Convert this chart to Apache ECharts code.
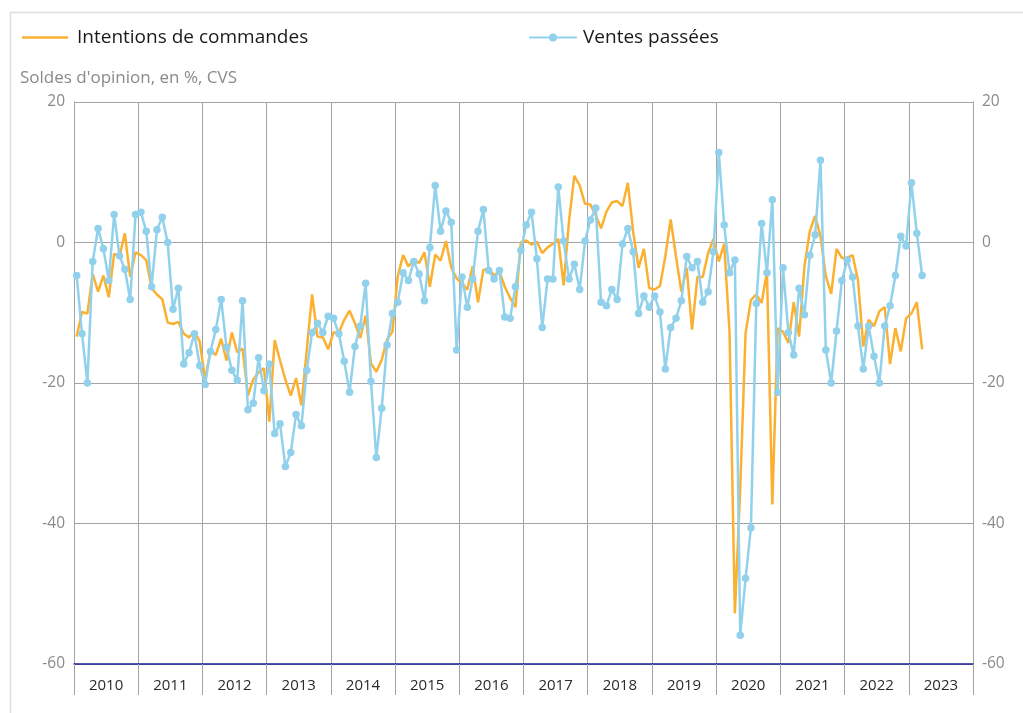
<!DOCTYPE html>
<html>
<head>
<meta charset="utf-8">
<script src="https://cdn.jsdelivr.net/npm/echarts@6/dist/echarts.min.js"></script>
<style>
html,body{margin:0;padding:0;background:#fff;}
#chart{width:1023px;height:713px;}
</style>
</head>
<body>
<div id="chart"></div>
<script>
// Years shown on the x axis
var years = ['2010','2011','2012','2013','2014','2015','2016','2017','2018','2019','2020','2021','2022','2023'];
var yTicks = [20, 0, -20, -40, -60];
var axisTitle = "Soldes d'opinion, en %, CVS";
var seriesNames = ['Intentions de commandes', 'Ventes passées'];

// Monthly values from Jan 2010 to Mar 2023
var intentions = [
  -13.4, -9.9, -10.1, -4.5, -7.0, -4.7, -7.8, -1.6, -2.0, 1.3, -4.9, -1.4,
  -1.8, -2.5, -6.5, -7.4, -8.1, -11.4, -11.6, -11.3, -13.0, -13.5, -12.7, -14.1,
  -19.5, -15.4, -16.0, -13.7, -16.8, -12.8, -15.6, -15.1, -21.8, -19.5, -18.5, -17.9,
  -25.5, -13.9, -16.8, -19.5, -21.8, -19.3, -23.2, -15.3, -7.4, -13.4, -13.5, -15.2,
  -12.8, -12.8, -11.0, -9.7, -11.5, -13.6, -10.4, -17.2, -18.4, -16.7, -13.8, -12.7,
  -4.8, -1.8, -3.4, -2.5, -2.9, -1.4, -6.3, -1.7, -2.6, 0.2, -3.6, -5.1,
  -5.8, -6.7, -3.4, -8.5, -3.9, -3.7, -4.7, -4.1, -6.3, -7.9, -9.2, 0.0,
  0.3, -0.3, 0.1, -1.5, -0.7, -0.2, 0.5, -6.1, 3.0, 9.5, 8.1, 5.5,
  5.4, 3.9, 2.0, 4.4, 5.7, 5.9, 5.2, 8.5, 1.5, -3.6, -0.9, -6.5,
  -6.7, -6.2, -2.0, 3.3, -2.0, -7.0, -3.6, -12.4, -4.9, -4.9, -1.5, 0.5,
  -2.7, -0.2, -12.7, -52.8, -35.0, -12.9, -8.2, -7.4, -8.6, -4.2, -37.3, -12.2,
  -12.7, -14.3, -8.5, -13.4, -3.4, 1.6, 3.8, 0.9, -4.8, -7.3, -0.9, -2.2,
  -2.2, -1.8, -5.3, -14.8, -11.0, -11.9, -9.8, -9.2, -17.3, -12.2, -15.5, -10.8,
  -10.1, -8.5, -15.2
];
var ventes = [
  -4.7, -13.0, -20.0, -2.7, 2.0, -0.9, -5.4, 4.0, -1.9, -3.8, -8.1, 4.0,
  4.3, 1.6, -6.3, 1.8, 3.6, 0.0, -9.5, -6.5, -17.3, -15.7, -13.0, -17.5,
  -20.2, -15.5, -12.4, -8.1, -14.9, -18.2, -19.6, -8.3, -23.8, -22.9, -16.4, -21.1,
  -17.3, -27.2, -25.8, -31.9, -29.9, -24.5, -26.1, -18.2, -12.8, -11.5, -12.8, -10.5,
  -10.8, -13.0, -16.9, -21.3, -14.8, -11.9, -5.8, -19.8, -30.6, -23.6, -14.6, -10.1,
  -8.5, -4.3, -5.4, -2.7, -4.5, -8.3, -0.7, 8.1, 1.6, 4.5, 2.9, -15.3,
  -4.9, -9.2, -5.2, 1.6, 4.7, -4.0, -5.2, -4.0, -10.6, -10.8, -6.3, -1.1,
  2.5, 4.3, -2.3, -12.1, -5.2, -5.2, 7.9, 0.2, -5.2, -3.1, -6.7, 0.2,
  3.2, 4.9, -8.5, -9.0, -6.7, -8.1, -0.2, 2.0, -1.3, -10.1, -7.6, -9.2,
  -7.6, -9.9, -18.0, -12.1, -10.8, -8.3, -2.0, -3.6, -2.7, -8.5, -7.0, -1.3,
  12.8, 2.5, -4.3, -2.5, -55.9, -47.8, -40.6, -8.7, 2.7, -4.3, 6.1, -21.3,
  -3.6, -12.8, -16.0, -6.5, -10.3, -1.8, 1.1, 11.7, -15.3, -20.0, -12.6, -5.4,
  -2.5, -4.9, -11.9, -18.0, -11.9, -16.2, -20.0, -11.9, -9.0, -4.7, 0.9, -0.5,
  8.5, 1.3, -4.7
];

// Month categories (Jan 2010 ... Dec 2023)
var months = [];
years.forEach(function (y) {
  for (var m = 1; m <= 12; m++) months.push(y + '-' + (m < 10 ? '0' + m : m));
});

var ORANGE = '#fbb030';
var BLUE = '#91d1ec';
var GRID = '#a3a3a3';
var LABEL = '#8a8a8a';
var FONT = '"Open Sans", "Noto Sans", sans-serif';

var chart = echarts.init(document.getElementById('chart'), null, {renderer: 'canvas'});
var yMin = Math.min.apply(null, yTicks), yMax = Math.max.apply(null, yTicks);

var yAxisBase = function (pos) {
  return {
    type: 'value', position: pos, min: yMin, max: yMax, interval: 20,
    axisLine: {show: true, onZero: false, lineStyle: {color: GRID, width: 1}},
    axisTick: {show: false},
    axisLabel: {color: LABEL, fontSize: 15.5, fontFamily: FONT, margin: 9},
    splitLine: {show: pos === 'left', lineStyle: {color: GRID, width: 1}}
  };
};

chart.setOption({
  animation: false,
  backgroundColor: '#fff',
  textStyle: {fontFamily: FONT},
  graphic: [
    {type: 'rect', z: -10, shape: {x: 10.5, y: 12.5, width: 1030, height: 720},
     style: {fill: 'none', stroke: '#dedede', lineWidth: 1.5}},
    {type: 'text', left: 20, top: 70,
     style: {text: axisTitle, fill: LABEL, font: '17px ' + FONT}}
  ],
  legend: [
    {data: [{name: seriesNames[0], icon: 'rect'}], left: 17, top: 23, itemWidth: 46, itemHeight: 2.5,
     textStyle: {color: '#1a1a1a', fontSize: 19, fontFamily: FONT, padding: [0, 0, 0, 4]}},
    {data: [seriesNames[1]], left: 523, top: 23, itemWidth: 48, itemHeight: 10,
     textStyle: {color: '#1a1a1a', fontSize: 19, fontFamily: FONT, padding: [0, 0, 0, 1]}}
  ],
  grid: {left: 74, right: 50, top: 102, bottom: 49, containLabel: false},
  xAxis: [
    {type: 'category', data: months, boundaryGap: true, position: 'bottom',
     axisLine: {show: false, onZero: false}, axisTick: {show: false}, axisLabel: {show: false}, splitLine: {show: false}},
    {type: 'category', data: years, boundaryGap: true, position: 'bottom',
     axisLine: {show: true, onZero: false, lineStyle: {color: '#1f1f96', width: 1.5}},
     axisTick: {show: true, interval: 0, length: 31, lineStyle: {color: GRID, width: 1}},
     axisLabel: {color: '#2a2a2a', fontSize: 15, fontFamily: FONT, margin: 14, interval: 0},
     splitLine: {show: true, interval: 0, lineStyle: {color: GRID, width: 1}}}
  ],
  yAxis: [yAxisBase('left'), yAxisBase('right')],
  series: [
    {name: seriesNames[0], type: 'line', xAxisIndex: 0, yAxisIndex: 0, data: intentions,
     symbol: 'none', showSymbol: false, lineStyle: {color: ORANGE, width: 2.5},
     itemStyle: {color: ORANGE}, z: 3},
    {name: seriesNames[1], type: 'line', xAxisIndex: 0, yAxisIndex: 0, data: ventes,
     symbol: 'circle', symbolSize: 7.5, showSymbol: true, showAllSymbol: true,
     lineStyle: {color: BLUE, width: 2.5},
     itemStyle: {color: BLUE}, z: 4}
  ]
});
</script>
</body>
</html>
